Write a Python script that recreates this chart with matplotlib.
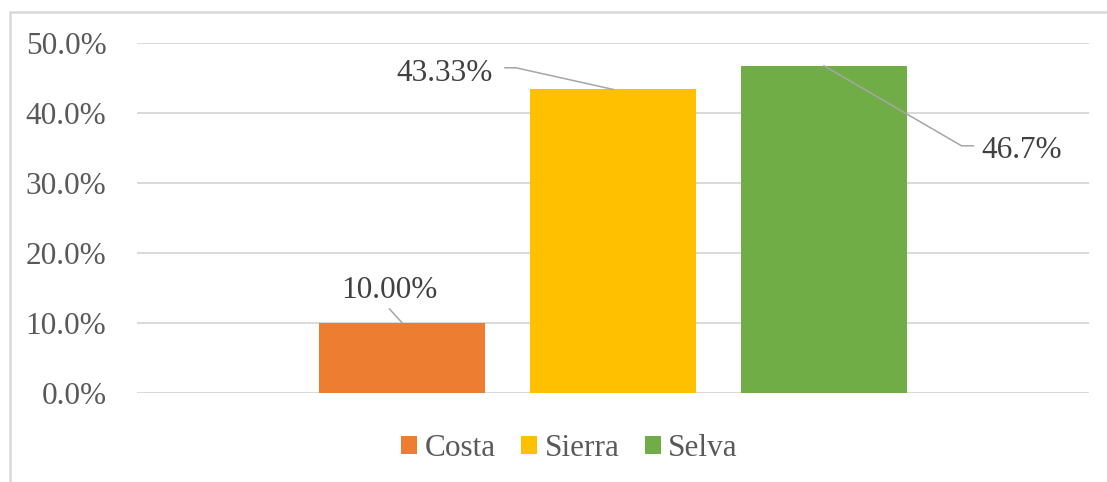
import matplotlib
matplotlib.use("Agg")
import matplotlib.pyplot as plt
from matplotlib.patches import Rectangle, Patch
from matplotlib.ticker import FuncFormatter
from matplotlib.transforms import offset_copy

# ---- data ----
categories = ["Costa", "Sierra", "Selva"]
values = [0.10, 0.4333, 0.467]
label_texts = ["10.00%", "43.33%", "46.7%"]
colors = ["#ED7D31", "#FFC000", "#70AD47"]
yticks = [0.0, 0.1, 0.2, 0.3, 0.4, 0.5]

plt.rcParams['font.family'] = ['Liberation Serif', 'DejaVu Serif']
FS = 22.5
TXT = "#595959"
LBL = "#404040"
GRID = "#D9D9D9"
LEAD = "#A6A6A6"

W, H = 1107, 482
fig = plt.figure(figsize=(W / 100, H / 100), dpi=100)
ax = fig.add_axes([137 / W, 1 - 392.7 / H, (1089 - 137) / W, (392.7 - 42.7) / H])

xs = list(range(len(categories)))
ax.bar(xs, values, width=0.79, color=colors, zorder=3)

ax.set_xlim(-1.256, 3.256)
ax.set_ylim(0, 0.5)
ax.set_yticks(yticks)
ax.yaxis.set_major_formatter(FuncFormatter(lambda v, p: f"{v*100:.1f}%"))
ax.set_xticks([])
ax.tick_params(axis='y', length=0, pad=22, labelsize=FS, labelcolor=TXT)
for s in ax.spines.values():
    s.set_visible(False)
ax.grid(axis='y', color=GRID, linewidth=1.4, zorder=0)
ax.set_axisbelow(True)

# data labels with leader lines (pixel offsets from bar top)
text_offsets = [(-13, 24.7), (-168.5, 8.6), (198, -92.3)]
leader_paths = [
    [(-12.5, 13.7), (0, 0)],
    [(-108, 21.6), (-97, 21.6), (0, 0)],
    [(0, 0), (137.5, -80), (149.5, -80)],
]
for x, v, t, (dx, dy), path in zip(xs, values, label_texts, text_offsets, leader_paths):
    tr = offset_copy(ax.transData, fig=fig, x=dx, y=dy, units='dots')
    ax.text(x, v, t, transform=tr, ha='center', va='baseline', fontsize=FS, color=LBL, zorder=5)
    px, py = [], []
    for (ox, oy) in path:
        p = ax.transData.transform((x, v))
        px.append(p[0] + ox)
        py.append(p[1] + oy)
    inv = ax.transData.inverted()
    pts = [inv.transform((a, b)) for a, b in zip(px, py)]
    ax.plot([q[0] for q in pts], [q[1] for q in pts], color=LEAD, lw=1.1, zorder=4, clip_on=False)

# legend
handles = [Patch(facecolor=c, edgecolor='none', label=n) for c, n in zip(colors, categories)]
leg = fig.legend(handles=handles, loc='center', bbox_to_anchor=(569.5 / W, 1 - 449 / H),
                 ncol=3, frameon=False, fontsize=FS, handlelength=0.51, handleheight=0.51,
                 handletextpad=0.25, columnspacing=0.8, borderpad=0, borderaxespad=0)
for t in leg.get_texts():
    t.set_color(TXT)

# chart area border
fig.patches.append(Rectangle((10 / W, -0.2), 2.0, (H - 12) / H + 0.2, transform=fig.transFigure,
                             fill=False, edgecolor=GRID, linewidth=1.8, clip_on=False))

fig.savefig("out.png", dpi=100)
